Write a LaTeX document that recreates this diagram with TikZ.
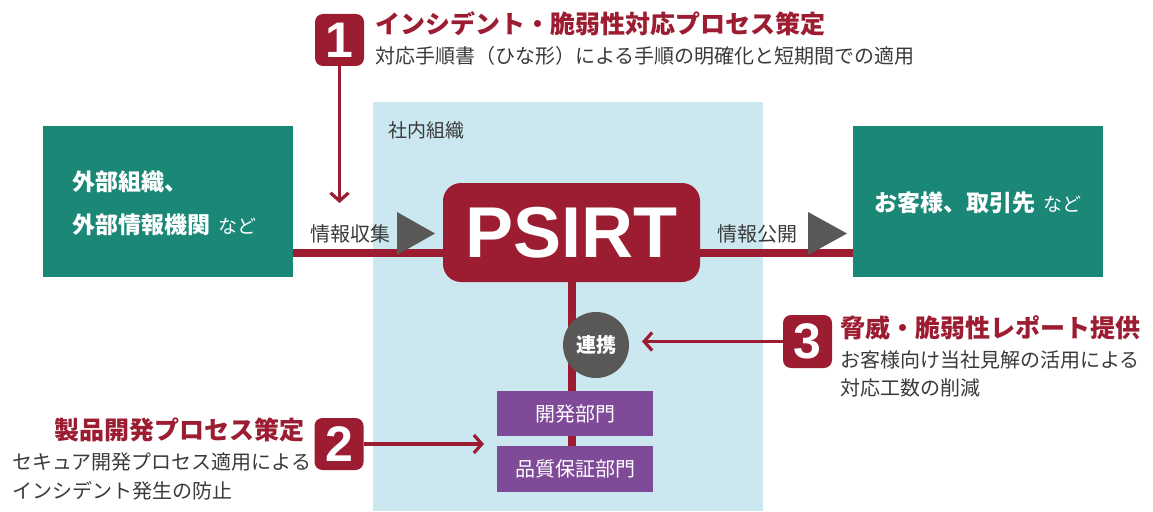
\documentclass[tikz,border=0pt]{standalone}
\usepackage{fontspec}
\newfontfamily\jp{Noto Sans CJK JP}
\newfontfamily\lat{Liberation Sans}
\usetikzlibrary{arrows.meta,calc,backgrounds}
\definecolor{psred}{HTML}{9C1C31}
\definecolor{grn}{HTML}{1B8777}
\definecolor{bgblue}{HTML}{CBE8F0}
\definecolor{dgray}{HTML}{5A5857}
\definecolor{purp}{HTML}{7F4A97}
\definecolor{txt}{HTML}{3A3A3A}
\newcommand{\fs}[1]{\fontsize{#1}{#1}\selectfont}
\begin{document}
\begin{tikzpicture}[x=1pt,y=-1pt,
  greenbox/.style={fill=grn, draw=none, minimum width=250pt, minimum height=151pt, inner sep=0pt},
  boxtxt/.style={text=white, inner sep=0pt, font=\jp\bfseries\fs{23}},
  psirtbox/.style={fill=psred, rounded corners=18pt, minimum width=257pt, minimum height=99pt, inner sep=0pt, text=white, font=\lat\bfseries\fs{72}},
  orgbox/.style={fill=bgblue, minimum width=390pt, minimum height=409pt, inner sep=0pt},
  purpbox/.style={fill=purp, minimum width=156pt, minimum height=45pt, inner sep=0pt, text=white, font=\jp\fs{20}},
  coopc/.style={circle, fill=dgray, minimum size=66pt, inner sep=0pt, text=white, font=\jp\bfseries\fs{20}},
  badge/.style={fill=psred, rounded corners=8pt, minimum width=49pt, minimum height=52pt, inner sep=0pt, text=white, font=\lat\bfseries\fs{50}},
  ttl/.style={text=psred, inner sep=0pt, font=\jp\bfseries\fs{25}},
  sub/.style={text=txt, inner sep=0pt, font=\jp\fs{20}},
  lbl/.style={text=txt, inner sep=0pt, font=\jp\fs{20}},
  redthick/.style={draw=psred, line width=8pt},
  thinarrow/.style={draw=psred, line width=3.2pt, -{Straight Barb[length=8pt,width=18pt]}},
  tri/.style={fill=dgray}
]
\useasboundingbox (0,0) rectangle (1153,511);

% main nodes
\node[greenbox] (ext) at (168,201.5) {};
\node[boxtxt, anchor=west] (ext1) at (72,182) {外部組織、};
\node[boxtxt, anchor=west] (ext2) at (72,225) {外部情報機関\hspace{8pt}{\mdseries\fs{19}など}};

\node[greenbox] (cust) at (978,201.5) {};
\node[boxtxt] (cust1) at (978,203) {お客様、取引先\hspace{8pt}{\mdseries\fs{19}など}};

\node[psirtbox] (psirt) at (571.5,232.5) {PSIRT};
\node[coopc] (coop) at (596,345) {連携};
\node[purpbox] (dev) at (575,413.5) {開発部門};
\node[purpbox, minimum height=46pt] (qa) at (575,469) {品質保証部門};

\begin{pgfonlayer}{background}
  \node[orgbox] (org) at (568,306.5) {};
  \draw[redthick] (psirt.south) -- (psirt.south |- qa.north);
\end{pgfonlayer}
\node[lbl, anchor=west, font=\jp\fs{19}] (orglbl) at (388,130) {社内組織};

% horizontal flow
\coordinate (hl) at (0,253);
\draw[redthick] (ext.east |- hl) -- (psirt.west |- hl);
\draw[redthick] (psirt.east |- hl) -- (cust.west |- hl);
\fill[tri] (397,212) -- (397,255) -- (435,233.5) -- cycle;
\fill[tri] (808,212) -- (808,255) -- (847,233.5) -- cycle;
\node[lbl, anchor=west] (in) at (310,234) {情報収集};
\node[lbl, anchor=west] (out) at (717,234) {情報公開};

% item 1
\node[badge] (b1) at (339.5,40) {1};
\node[ttl, anchor=west] (t1a) at (375,24) {インシデント・脆弱性対応プロセス策定};
\node[sub, anchor=west] (t1b) at (375,56) {対応手順書（ひな形）による手順の明確化と短期間での適用};
\coordinate (e1) at (339.5,203);
\draw[thinarrow] (b1.south) -- (e1);

% item 2
\node[badge] (b2) at (339,444) {2};
\node[ttl, anchor=east] (t2a) at (305,430) {製品開発プロセス策定};
\node[sub, anchor=west] (t2b) at (12,462) {セキュア開発プロセス適用による};
\node[sub, anchor=west] (t2c) at (12,491) {インシデント発生の防止};
\coordinate (e2) at (484,444);
\draw[thinarrow] (b2.east) -- (e2);

% item 3
\node[badge, minimum height=53pt] (b3) at (807.5,341.5) {3};
\node[ttl, anchor=west] (t3a) at (840,328) {脅威・脆弱性レポート提供};
\node[sub, anchor=west] (t3b) at (840,360) {お客様向け当社見解の活用による};
\node[sub, anchor=west] (t3c) at (840,388) {対応工数の削減};
\coordinate (e3) at (642,341.5);
\draw[thinarrow] (b3.west) -- (e3);
\end{tikzpicture}
\end{document}
